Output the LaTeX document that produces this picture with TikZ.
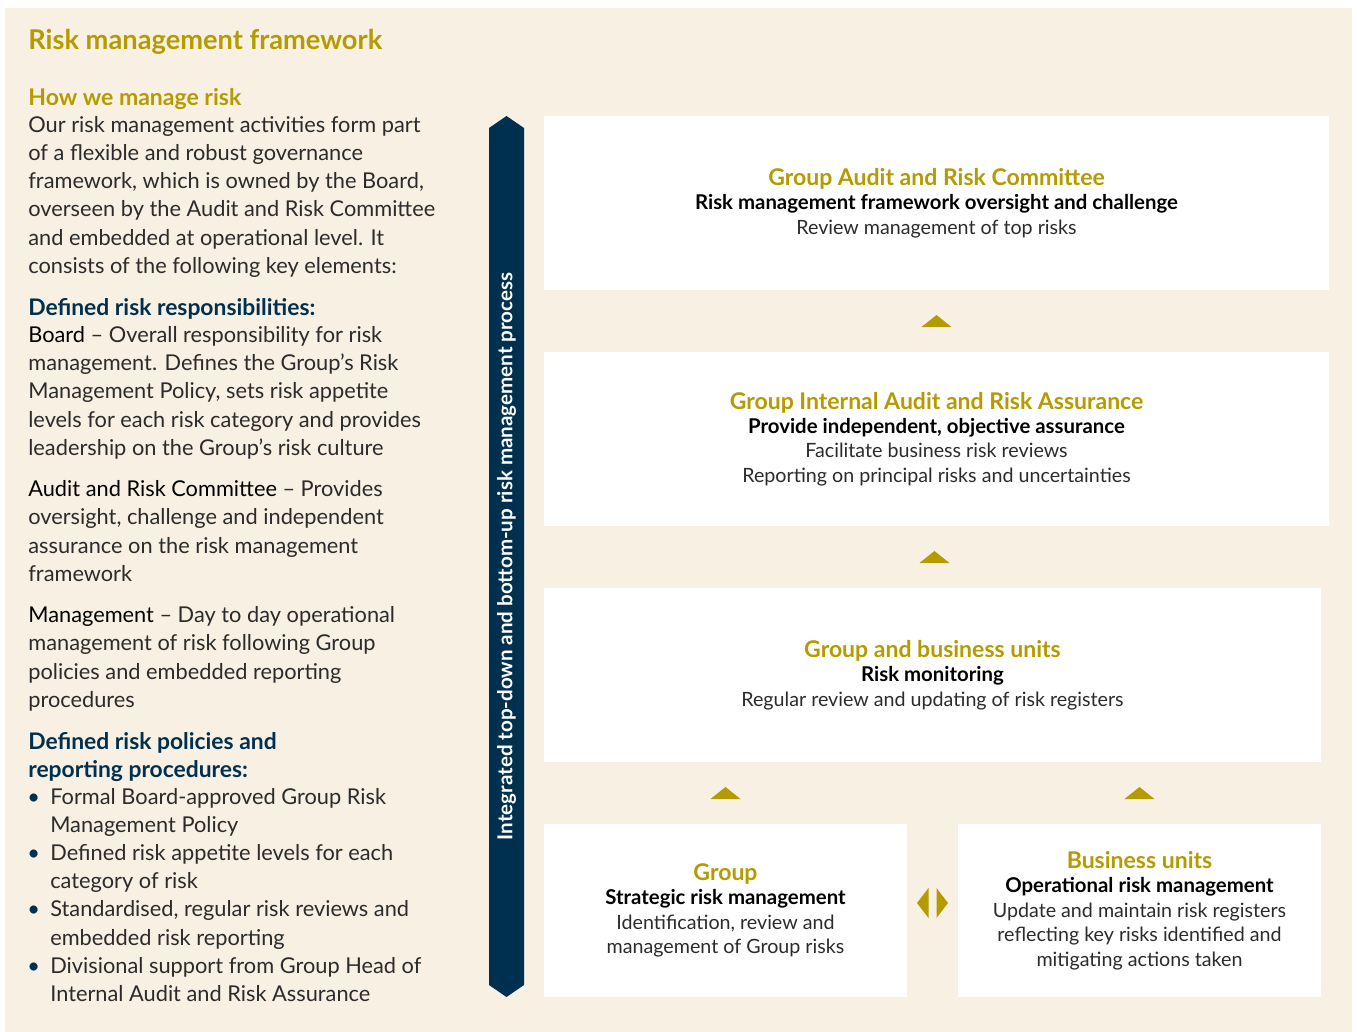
\documentclass[tikz,border=0pt]{standalone}
\usepackage{fontspec}
\setmainfont{Lato}
\usepackage{tikz}
\usetikzlibrary{calc}

\definecolor{gold}{HTML}{B59A00}
\definecolor{navy}{HTML}{00304F}
\definecolor{cream}{HTML}{F8F1E3}
\definecolor{ink}{HTML}{2B2B2B}

\newcommand{\boxtitle}[1]{{\color{gold}\bfseries\fontsize{13.1}{14}\selectfont #1}}
\newcommand{\boxlead}[1]{{\color{black}\bfseries\fontsize{11.6}{14}\selectfont #1}}
\newcommand{\lead}[1]{{\color{black}#1}}
\newcommand{\bul}{\makebox[12.5pt][l]{\hspace{-0.5pt}\color{navy}\textbullet}}
\newcommand{\ind}{\hspace*{12.5pt}}

\tikzset{
  bodytext/.style={anchor=base west, inner sep=0pt, align=left, text=ink,
    font=\fontsize{12.4}{15.94}\selectfont},
  headtext/.style={bodytext, text=navy, font=\bfseries\fontsize{13}{15.94}\selectfont},
  panel/.style={fill=white, inner sep=0pt, align=center, text=ink,
    font=\fontsize{11.2}{13.9}\selectfont, minimum height=3.48cm},
  uptri/.pic={\fill[gold] (-15,6) -- (15,6) -- (0,-6) -- cycle;},
  bothtri/.pic={\fill[gold] (-15.5,0) -- (-4,-15) -- (-4,15) -- cycle;
                \fill[gold] (15.5,0) -- (4,-15) -- (4,15) -- cycle;}
}

\begin{document}
\begin{tikzpicture}[x=0.02cm, y=-0.02cm]

  \useasboundingbox (0,0) rectangle (1357,1032);
  \fill[cream] (5,8) rectangle (1352,1032);

  % left column (each node is placed by the baseline of its last line)
  \node[bodytext, text=gold, font=\bfseries\fontsize{15.5}{18}\selectfont] (title) at (28,49) {Risk management framework};
  \node[bodytext, text=gold, font=\bfseries\fontsize{13.1}{16}\selectfont] (howhead) at (28,105) {How we manage risk};
  \node[bodytext] (intro) at (28,273) {Our risk management activities form part\\
    of a flexible and robust governance\\
    framework, which is owned by the Board,\\
    overseen by the Audit and Risk Committee\\
    and embedded at operational level. It\\
    consists of the following key elements:};

  \node[headtext] (resphead) at (28,315) {Defined risk responsibilities:};
  \node[bodytext] (board) at (28,455) {\lead{Board} – Overall responsibility for risk\\
    management. Defines the Group’s Risk\\
    Management Policy, sets risk appetite\\
    levels for each risk category and provides\\
    leadership on the Group’s risk culture};
  \node[bodytext] (arc) at (28,581) {\lead{Audit and Risk Committee} – Provides\\
    oversight, challenge and independent\\
    assurance on the risk management\\
    framework};
  \node[bodytext] (mgmt) at (28,707) {\lead{Management} – Day to day operational\\
    management of risk following Group\\
    policies and embedded reporting\\
    procedures};

  \node[headtext] (polhead) at (28,777) {Defined risk policies and\\reporting procedures:};
  \node[bodytext] (bullets) at (28,1001) {\bul Formal Board-approved Group Risk\\
    \ind Management Policy\\
    \bul Defined risk appetite levels for each\\
    \ind category of risk\\
    \bul Standardised, regular risk reviews and\\
    \ind embedded risk reporting\\
    \bul Divisional support from Group Head of\\
    \ind Internal Audit and Risk Assurance};

  % process bar
  \coordinate (bartop) at (506.5,116);
  \coordinate (barbot) at (506.5,997);
  \fill[navy] (bartop) -- ++(17.5,12) |- ($(barbot)+(17.5,-12)$) -- (barbot)
    -- ++(-17.5,-12) -- ($(bartop)+(-17.5,12)$) -- cycle;
  \node[rotate=90, text=white, inner sep=0pt, font=\bfseries\fontsize{11.7}{12}\selectfont]
    (process) at ($(bartop)!0.5!(barbot)$) {Integrated top-down and bottom-up risk management process};

  % panels
  \node[panel, minimum width=15.7cm] (garc) at (936.5,203) {\boxtitle{Group Audit and Risk Committee}\\
    \boxlead{Risk management framework oversight and challenge}\\
    Review management of top risks};
  \node[panel, minimum width=15.7cm] (giara) at (936.5,439) {\boxtitle{Group Internal Audit and Risk Assurance}\\
    \boxlead{Provide independent, objective assurance}\\
    Facilitate business risk reviews\\
    Reporting on principal risks and uncertainties};
  \node[panel, minimum width=15.54cm] (gbu) at (932.5,675) {\boxtitle{Group and business units}\\
    \boxlead{Risk monitoring}\\
    Regular review and updating of risk registers};
  \node[panel, minimum width=7.26cm, minimum height=3.46cm] (grp) at (725.5,910.5) {\boxtitle{Group}\\
    \boxlead{Strategic risk management}\\
    Identification, review and\\
    management of Group risks};
  \node[panel, minimum width=7.26cm, minimum height=3.46cm] (bu) at (1139.5,910.5) {\boxtitle{Business units}\\
    \boxlead{Operational risk management}\\
    Update and maintain risk registers\\
    reflecting key risks identified and\\
    mitigating actions taken};

  % arrowheads between panels
  \pic at ($(garc.south)!0.5!(giara.north)$) {uptri};
  \pic at ($(giara.south)!0.5!(gbu.north)$) {uptri};
  \pic at ($(grp.north)!0.5!(grp.north |- gbu.south)$) {uptri};
  \pic at ($(bu.north)!0.5!(bu.north |- gbu.south)$) {uptri};
  \pic at ($(grp.east)!0.5!(bu.west)+(0,-7.5)$) {bothtri};

\end{tikzpicture}
\end{document}
